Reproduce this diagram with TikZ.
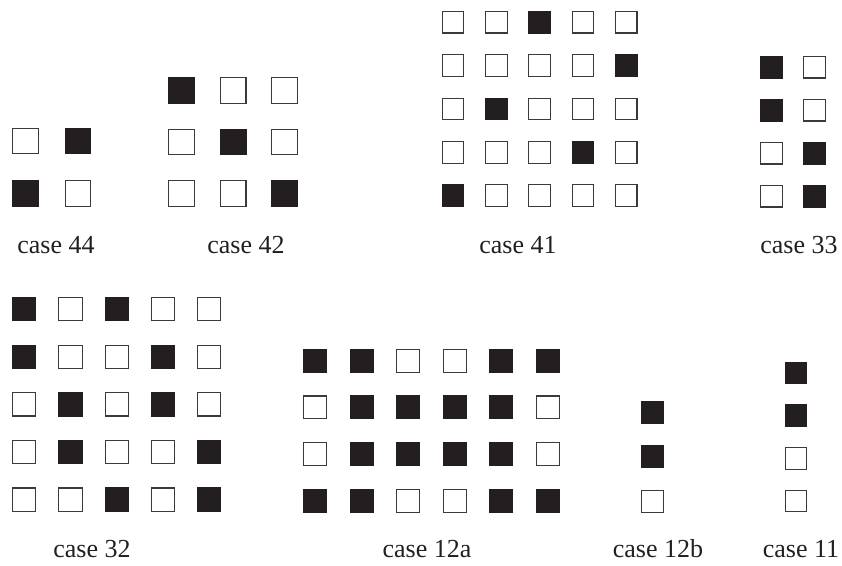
\documentclass[tikz,border=0pt]{standalone}
\usepackage{fontspec}
\setmainfont{Liberation Serif}
\definecolor{ink}{HTML}{231F20}
\definecolor{edge}{HTML}{3A3A3A}
\tikzset{
  sq0/.style={draw=edge, fill=white, line width=1.1pt, inner sep=0pt, outer sep=0pt},
  sq1/.style={draw=ink, fill=ink, line width=1.1pt, inner sep=0pt, outer sep=0pt},
  caselabel/.style={inner sep=0pt, anchor=base, font=\fontsize{26}{30}\selectfont, text=ink}
}
% #1 prefix, #2 x0, #3 y0, #4 dx, #5 dy, #6 ink size, #7 rows
\newcommand{\sqgrid}[7]{%
  \foreach \rowlist [count=\r] in {#7} {%
    \foreach \v [count=\k] in \rowlist {%
      \node[sq\v, minimum size=#6pt-1.1pt] (#1-\r-\k) at ({#2+(\k-1)*#4}, {#3+(\r-1)*#5}) {};
    }%
  }%
}
\begin{document}
\begin{tikzpicture}[x=1pt, y=-1pt]
\useasboundingbox (0,0) rectangle (842,565);
% case 44
\sqgrid{c44}{25.7}{141}{52.2}{52.4}{26.7}{{0,1},{1,0}}
\node[caselabel] (l44) at (56,253) {case 44};
% case 42
\sqgrid{c42}{181.7}{90.6}{51.5}{51.4}{26.7}{{1,0,0},{0,1,0},{0,0,1}}
\node[caselabel] (l42) at (246,253) {case 42};
% case 41
\sqgrid{c41}{453}{22.2}{43.3}{43.35}{22.7}{{0,0,1,0,0},{0,0,0,0,1},{0,1,0,0,0},{0,0,0,1,0},{1,0,0,0,0}}
\node[caselabel] (l41) at (518,253) {case 41};
% case 33
\sqgrid{c33}{771.3}{67.2}{43.2}{43}{22.6}{{1,0},{1,0},{0,1},{0,1}}
\node[caselabel] (l33) at (799,253) {case 33};
% case 32
\sqgrid{c32}{24.2}{309.2}{46.25}{47.6}{24.3}{{1,0,1,0,0},{1,0,0,1,0},{0,1,0,1,0},{0,1,0,0,1},{0,0,1,0,1}}
\node[caselabel] (l32) at (92,557) {case 32};
% case 12a
\sqgrid{c12a}{315.3}{360.8}{46.5}{46.6}{24}{{1,1,0,0,1,1},{0,1,1,1,1,0},{0,1,1,1,1,0},{1,1,0,0,1,1}}
\node[caselabel] (l12a) at (427,557) {case 12a};
% case 12b
\sqgrid{c12b}{652.3}{412.3}{0}{44.5}{23.3}{{1},{1},{0}}
\node[caselabel] (l12b) at (658,557) {case 12b};
% case 11
\sqgrid{c11}{796.2}{373}{0}{42.7}{22.5}{{1},{1},{0},{0}}
\node[caselabel] (l11) at (801,557) {case 11};
\end{tikzpicture}
\end{document}
